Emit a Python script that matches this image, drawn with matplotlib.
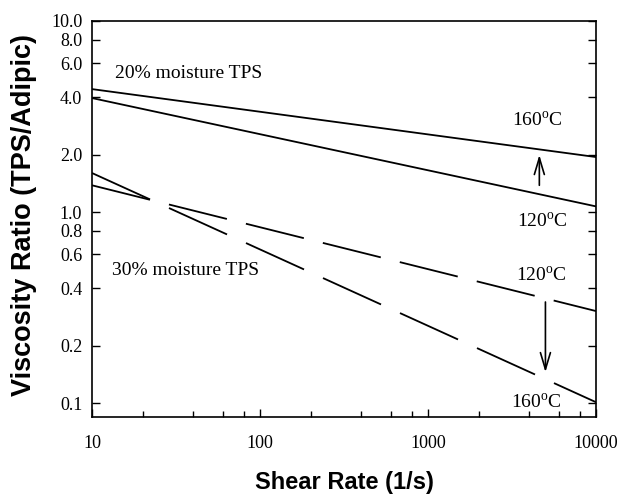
import numpy as np
import matplotlib
matplotlib.use("Agg")
import matplotlib.pyplot as plt
from matplotlib.ticker import FixedLocator, FixedFormatter, NullFormatter

plt.rcParams['font.family'] = ['Liberation Serif', 'DejaVu Serif']
plt.rcParams['mathtext.fontset'] = 'custom'
plt.rcParams['mathtext.rm'] = 'Liberation Serif'
plt.rcParams['lines.scale_dashes'] = False

# power-law fits, straight lines on log-log axes (endpoints)
shear = [10, 10000]
tps20_160 = [4.40, 1.94]
tps20_120 = [3.95, 1.07]
tps30_120 = [1.38, 0.303]
tps30_160 = [1.60, 0.101]

ytick_vals = [0.1, 0.2, 0.4, 0.6, 0.8, 1.0, 2.0, 4.0, 6.0, 8.0, 10.0]
ytick_labels = ["0.1", "0.2", "0.4", "0.6", "0.8", "1.0", "2.0", "4.0", "6.0", "8.0", "10.0"]
xtick_vals = [10, 100, 1000, 10000]
xtick_labels = ["10", "100", "1000", "10000"]
xminor = [m * d for d in [10, 100, 1000] for m in [2, 4, 6, 8]]

fig = plt.figure(figsize=(6.22, 4.97), dpi=100)
ax = fig.add_axes([92/622, 1-417/497, (596-92)/622, (417-21)/497])

ax.plot(shear, tps20_160, color='black', lw=1.3)
ax.plot(shear, tps20_120, color='black', lw=1.3)
ax.plot(shear, tps30_120, color='black', lw=1.3, dashes=(43.0, 14.1))
ax.plot(shear, tps30_160, color='black', lw=1.3, dashes=(45.9, 15.0))

ax.set_xscale('log')
ax.set_yscale('log')
ax.set_xlim(10, 10000)
ax.set_ylim(0.0845, 10)

ax.yaxis.set_major_locator(FixedLocator(ytick_vals))
ax.yaxis.set_major_formatter(FixedFormatter(ytick_labels))
ax.yaxis.set_minor_locator(FixedLocator([]))
ax.yaxis.set_minor_formatter(NullFormatter())
ax.xaxis.set_major_locator(FixedLocator(xtick_vals))
ax.xaxis.set_major_formatter(FixedFormatter(xtick_labels))
ax.xaxis.set_minor_locator(FixedLocator(xminor))
ax.xaxis.set_minor_formatter(NullFormatter())

ax.tick_params(axis='both', which='both', direction='in', labelsize=13, width=1.0)
ax.tick_params(axis='y', which='major', length=6, pad=7, left=True, right=True)
ax.tick_params(axis='x', which='major', length=6, pad=13, top=False)
ax.tick_params(axis='x', which='minor', length=4, top=False)
for s in ax.spines.values():
    s.set_linewidth(1.2)

ax.set_xlabel("Shear Rate (1/s)", fontsize=17, fontweight='bold',
              family=['Liberation Sans', 'DejaVu Sans'], labelpad=14)
ax.set_ylabel("Viscosity Ratio (TPS/Adipic)", fontsize=19.5, fontweight='bold',
              family=['Liberation Sans', 'DejaVu Sans'])
ax.yaxis.set_label_coords(-0.11, 0.51)

deg = "$^{\\mathrm{o}}$"
ax.text(13.7, 5.03, "20% moisture TPS", fontsize=14, ha='left', va='baseline')
ax.text(13.15, 0.468, "30% moisture TPS", fontsize=14, ha='left', va='baseline')
ax.text(4460, 2.82, "160" + deg + "C", fontsize=14, ha='center', va='baseline')
ax.text(4770, 0.835, "120" + deg + "C", fontsize=14, ha='center', va='baseline')
ax.text(4700, 0.435, "120" + deg + "C", fontsize=14, ha='center', va='baseline')
ax.text(4400, 0.0941, "160" + deg + "C", fontsize=14, ha='center', va='baseline')

arrow = dict(arrowstyle='->,head_length=0.6,head_width=0.18', color='black', lw=1.2,
             mutation_scale=20, shrinkA=0, shrinkB=0)
ax.annotate("", xy=(4600, 1.99), xytext=(4600, 1.38), arrowprops=arrow)
ax.annotate("", xy=(5000, 0.145), xytext=(5000, 0.338), arrowprops=arrow)

plt.savefig('out.png', dpi=100)
